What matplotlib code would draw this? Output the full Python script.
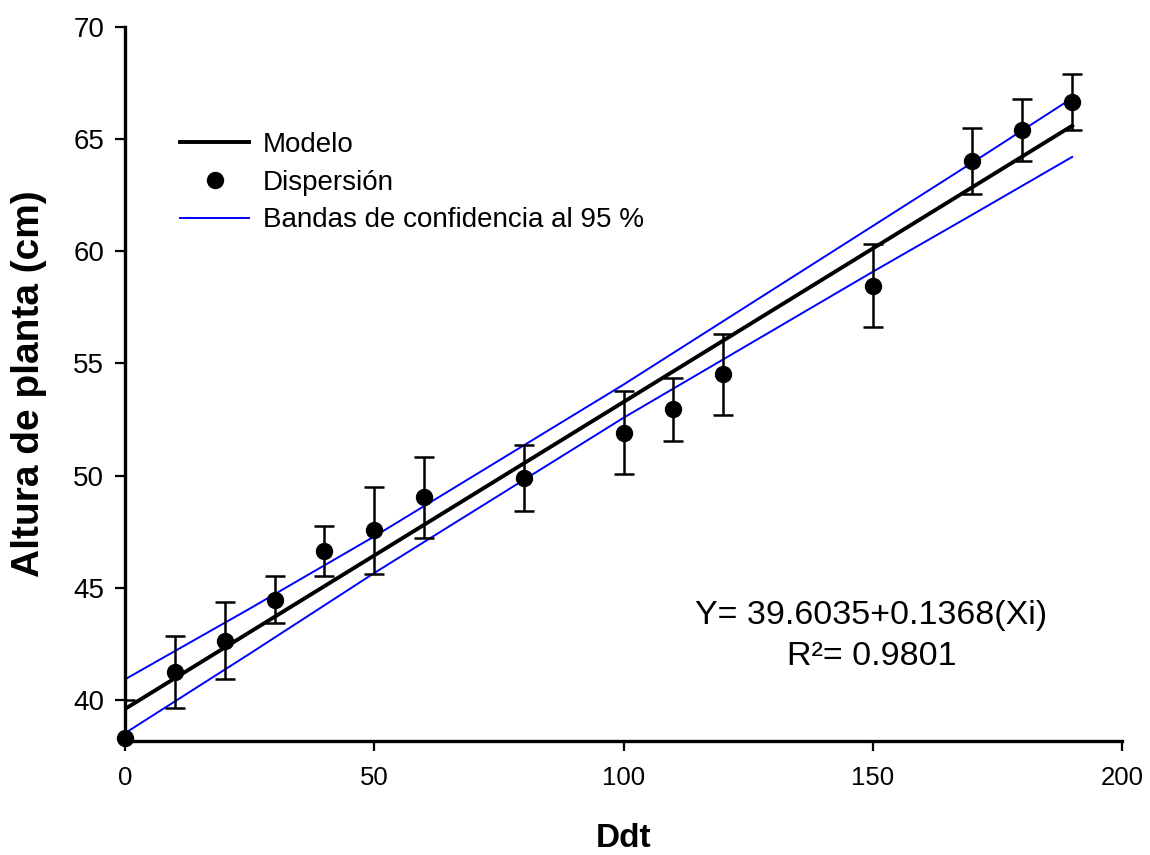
import matplotlib
matplotlib.use("Agg")
from matplotlib import pyplot as plt
from matplotlib.lines import Line2D

plt.rcParams['font.family'] = ['Liberation Sans', 'DejaVu Sans']

# datos observados (Ddt, altura media, error)
ddt = [0, 10, 20, 30, 40, 50, 60, 80, 100, 110, 120, 150, 170, 180, 190]
altura = [38.29, 41.26, 42.64, 44.47, 46.65, 47.56, 49.03, 49.89, 51.92,
          52.96, 54.51, 58.46, 64.02, 65.41, 66.65]
error = [1.71, 1.60, 1.72, 1.05, 1.12, 1.95, 1.80, 1.47, 1.84,
         1.41, 1.82, 1.85, 1.48, 1.39, 1.26]

# modelo ajustado
modelo_x = [0, 190]
modelo_y = [39.60, 65.60]

# bandas de confianza al 95 %
banda_x = [0, 25, 50, 100, 150, 170, 190]
banda_sup = [40.92, 44.07, 47.29, 54.06, 61.13, 63.96, 66.83]
banda_inf = [38.52, 42.06, 45.66, 52.58, 59.09, 61.64, 64.21]

fig = plt.figure(figsize=(11.5, 8.55), dpi=100)
ax = fig.add_axes([0.1087, 0.1333, 0.867, 0.8351])

ax.plot(banda_x, banda_sup, color='#0000ff', linewidth=1.4, zorder=2)
ax.plot(banda_x, banda_inf, color='#0000ff', linewidth=1.4, zorder=2)
ax.plot(modelo_x, modelo_y, color='black', linewidth=2.8, zorder=3)

ax.errorbar(ddt, altura, yerr=error, fmt='none', ecolor='black',
            elinewidth=1.8, capsize=7.5, capthick=1.8, zorder=4)
ax.plot(ddt, altura, 'o', color='black', markersize=11.5, zorder=5,
        clip_on=False)

ax.set_xlim(0, 200)
ax.set_ylim(38.17, 70)
ax.set_xticks(range(0, 201, 50))
ax.set_yticks(range(40, 71, 5))

for s in ['top', 'right']:
    ax.spines[s].set_visible(False)
for s in ['left', 'bottom']:
    ax.spines[s].set_linewidth(2.4)
ax.tick_params(direction='out', length=7, width=1.6)
ax.tick_params(axis='x', pad=11, labelsize=18.5)
ax.tick_params(axis='y', pad=8, labelsize=20)

ax.set_xlabel('Ddt', fontsize=24, fontweight='bold', labelpad=24)
ax.set_ylabel('Altura de planta (cm)', fontsize=28, fontweight='bold',
              labelpad=19)

# leyenda
h_modelo = Line2D([], [], color='black', linewidth=2.8)
h_disp = Line2D([], [], color='black', marker='o', linestyle='none',
                markersize=11.5)
h_banda = Line2D([], [], color='#0000ff', linewidth=1.4)
ax.legend([h_modelo, h_disp, h_banda],
          ['Modelo', 'Dispersión', 'Bandas de confidencia al 95 %'],
          loc='upper left', bbox_to_anchor=(0.03, 0.888), frameon=False,
          fontsize=20, handlelength=2.5, handletextpad=0.5, labelspacing=0.42,
          numpoints=1)

ax.text(149.7, 42.85, 'Y= 39.6035+0.1368(Xi)\nR²= 0.9801', fontsize=24.5,
        ha='center', va='center', linespacing=1.4)

plt.savefig('out.png', dpi=100)
